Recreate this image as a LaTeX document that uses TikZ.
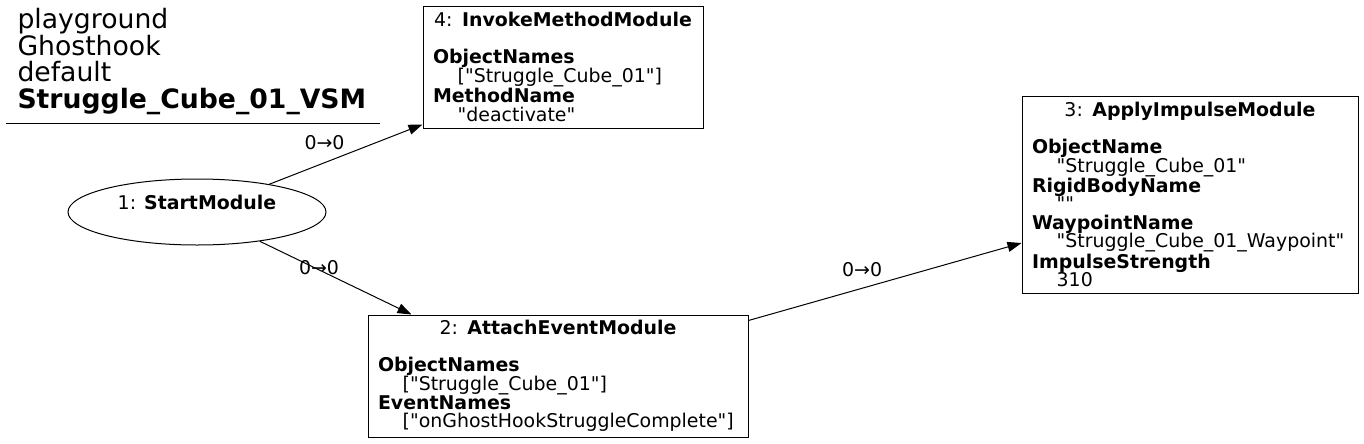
\documentclass[tikz,border=0pt]{standalone}
\usepackage{fontspec}
\setmainfont{DejaVu Sans}
\usetikzlibrary{arrows.meta, positioning, shapes.geometric}

\tikzset{
  modbox/.style={draw, rectangle, inner xsep=7.5pt, inner ysep=0pt, align=left,
    font=\fontsize{14.2}{13.9}\selectfont},
  startnode/.style={draw, ellipse, inner sep=0pt, align=center,
    minimum width=193.5pt, minimum height=49.5pt,
    font=\fontsize{14.2}{13.9}\selectfont},
  flow/.style={-{Triangle[length=10.5pt, width=7.5pt]}, line width=0.75pt},
  flowlabel/.style={font=\fontsize{14.2}{13.9}\selectfont, inner sep=0pt}
}
\newcommand{\ind}{\hspace*{18.5pt}}
\newcommand{\ttl}[1]{\makebox[\linewidth][c]{#1}}
\newcommand{\qt}{\textquotedbl}

\begin{document}
\begin{tikzpicture}[x=0.75pt, y=-0.75pt, line width=0.75pt]
    \useasboundingbox (0,0) rectangle (1364,443);

    % titel
    \node[anchor=north west, align=left, inner sep=0pt,
      font=\fontsize{20}{19.9}\selectfont] (title) at (17,8)
      {playground\\Ghosthook\\default\\\textbf{Struggle\_Cube\_01\_VSM}};
    \draw[line width=0.75pt] (6,123) -- (380,123);

    % module
    \node[startnode] (start) at (197,212) {1: \textbf{StartModule}\\~};

    \node[modbox, minimum width=210pt, minimum height=91.5pt, text width=195pt] (invoke) at (563,67)
      {\ttl{4: \textbf{InvokeMethodModule}}\\[13.9pt]
       \textbf{ObjectNames}\\\ind[\qt Struggle\_Cube\_01\qt]\\
       \textbf{MethodName}\\\ind\qt deactivate\qt};

    \node[modbox, minimum width=285pt, minimum height=91.5pt, text width=270pt] (attach) at (558,376)
      {\ttl{2: \textbf{AttachEventModule}}\\[13.9pt]
       \textbf{ObjectNames}\\\ind[\qt Struggle\_Cube\_01\qt]\\
       \textbf{EventNames}\\\ind[\qt onGhostHookStruggleComplete\qt]};

    \node[modbox, minimum width=252pt, minimum height=147.75pt, text width=237pt] (impulse) at (1190,194.5)
      {\ttl{3: \textbf{ApplyImpulseModule}}\\[13.9pt]
       \textbf{ObjectName}\\\ind\qt Struggle\_Cube\_01\qt\\
       \textbf{RigidBodyName}\\\ind\qt\qt\\
       \textbf{WaypointName}\\\ind\qt Struggle\_Cube\_01\_Waypoint\qt\\
       \textbf{ImpulseStrength}\\\ind 310};

    % verbindungen
    \draw[flow] (start.21.5) -- ([yshift=3pt]invoke.south west)
      node[flowlabel, pos=0.36, yshift=15pt] {0→0};
    \draw[flow] (start.-25.5) -- ([xshift=33pt]attach.north west)
      node[flowlabel, pos=0.39, yshift=2pt] {0→0};
    \draw[flow] ([yshift=-4.5pt]attach.north east) -- ([yshift=-36.4pt]impulse.west)
      node[flowlabel, pos=0.416, yshift=14pt] {0→0};
\end{tikzpicture}
\end{document}
